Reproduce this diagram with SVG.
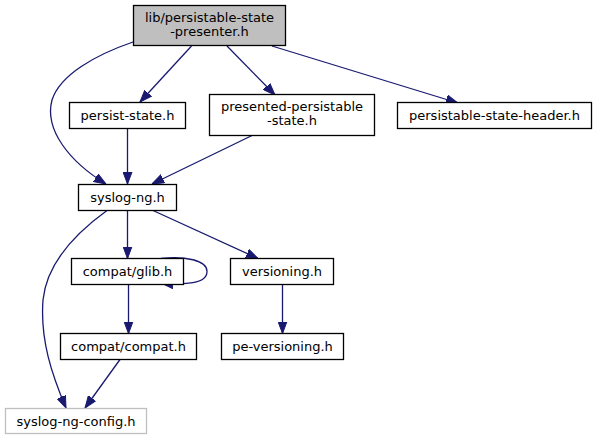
<svg xmlns="http://www.w3.org/2000/svg" width="597" height="440" viewBox="0 0 597 440">
<style>
.n rect{fill:#ffffff;stroke:#000000;stroke-width:1.3}
.root rect{fill:#bfbfbf}
.ext rect{stroke:#bfbfbf}
text{font-family:"DejaVu Sans",sans-serif;font-size:13px;fill:#000000;text-anchor:middle}
.e path{fill:none;stroke:#191970;stroke-width:1.3;marker-end:url(#ah)}
</style>
<defs>
<marker id="ah" markerUnits="userSpaceOnUse" markerWidth="12" markerHeight="10" refX="12" refY="5" orient="auto">
<path d="M0,0.5 L12,5 L0,9.5 z" fill="#191970" stroke="#191970" stroke-width="1"/>
</marker>
</defs>
<rect width="597" height="440" fill="#ffffff"/>
<g id="edges" class="e">
<path d="M133,42 C95,55 60,75 52,100 C44,130 70,162 106,184"/>
<path d="M191.5,46 L140,102"/>
<path d="M227,46 L275,95"/>
<path d="M272,46 L458,103"/>
<path d="M127.5,128.5 L127.5,184"/>
<path d="M252,135.5 L152,184"/>
<path d="M127.5,210.5 L127.5,258.5"/>
<path d="M153,210.5 L258,258.5"/>
<path d="M107,210.5 C80,230 47,260 43,300 C40,340 52,375 66,408"/>
<path d="M161,258.5 C185,256 207,260 207,271.5 C207,284 185,285 161,283"/>
<path d="M128.5,284.5 L128.5,333.5"/>
<path d="M282.5,284.5 L282.5,333.5"/>
<path d="M120,359.5 L85,408"/>
</g>
<g id="n_root" class="n root"><rect x="133.5" y="5.5" width="152" height="40"/><text x="209.5" y="21.5">lib/persistable-state</text><text x="209.5" y="36">-presenter.h</text></g>
<g id="n_persist_state" class="n"><rect x="69.5" y="102.5" width="116" height="26"/><text x="127.5" y="120">persist-state.h</text></g>
<g id="n_presented" class="n"><rect x="209.5" y="94.5" width="165" height="41"/><text x="292" y="110.5">presented-persistable</text><text x="292" y="125">-state.h</text></g>
<g id="n_header" class="n"><rect x="397.5" y="102.5" width="194" height="26"/><text x="494.5" y="120">persistable-state-header.h</text></g>
<g id="n_syslog_ng" class="n"><rect x="78.5" y="184.5" width="98" height="26"/><text x="127.5" y="202">syslog-ng.h</text></g>
<g id="n_glib" class="n"><rect x="71.5" y="258.5" width="112" height="26"/><text x="127.5" y="276">compat/glib.h</text></g>
<g id="n_versioning" class="n"><rect x="230.5" y="258.5" width="103" height="26"/><text x="282" y="276">versioning.h</text></g>
<g id="n_compat" class="n"><rect x="60.5" y="333.5" width="136" height="26"/><text x="128.5" y="351">compat/compat.h</text></g>
<g id="n_pe_versioning" class="n"><rect x="221.5" y="333.5" width="122" height="26"/><text x="282.5" y="351">pe-versioning.h</text></g>
<g id="n_config" class="n ext"><rect x="5.5" y="408.5" width="141" height="25"/><text x="76" y="425.5">syslog-ng-config.h</text></g>
</svg>
